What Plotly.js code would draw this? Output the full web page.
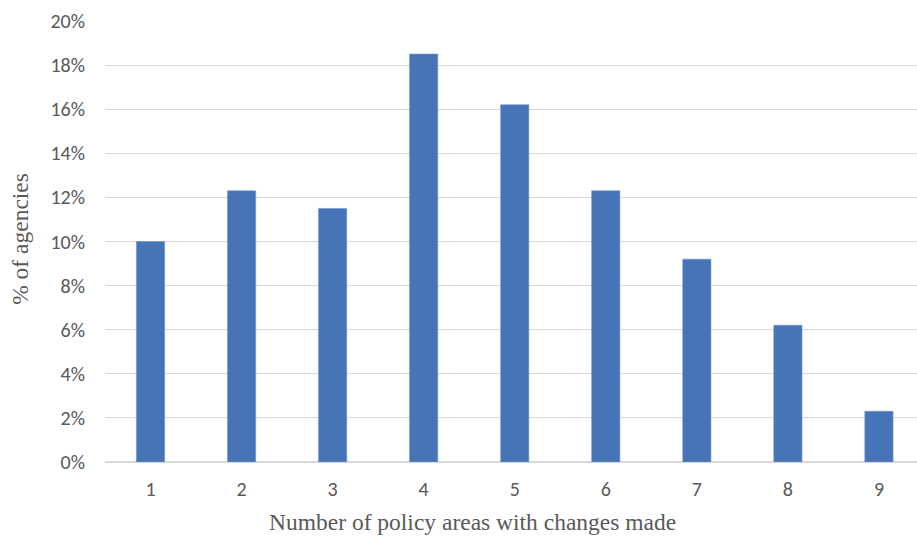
<!DOCTYPE html>
<html>
<head>
<meta charset="utf-8">
<script src="https://cdn.plot.ly/plotly-3.0.1.min.js"></script>
<style>html,body{margin:0;padding:0;background:#fff;}#chart{width:917px;height:537px;}</style>
</head>
<body>
<div id="chart"></div>
<script>
// Share of agencies by number of policy areas changed
const policyAreas = [1, 2, 3, 4, 5, 6, 7, 8, 9];
const agencyShare = [0.100, 0.123, 0.115, 0.185, 0.162, 0.123, 0.092, 0.062, 0.023];
const yTickVals = [0, 0.02, 0.04, 0.06, 0.08, 0.10, 0.12, 0.14, 0.16, 0.18, 0.20];
const yTickText = ['0%', '2%', '4%', '6%', '8%', '10%', '12%', '14%', '16%', '18%', '20%'];
const xTitle = 'Number of policy areas with changes made';
const yTitle = '% of agencies';

const tickFont = {family: 'Carlito, Lato, "Liberation Sans", Arial, sans-serif', size: 20, color: '#595959'};
const titleFont = {family: '"Liberation Serif", "DejaVu Serif", serif', size: 23.5, color: '#595959'};

Plotly.newPlot('chart', [{
  type: 'bar',
  x: policyAreas,
  y: agencyShare,
  width: 0.31,
  marker: {color: '#4674b6', line: {color: '#6f95cf', width: 0.6}},
  hoverinfo: 'x+y'
}], {
  width: 917,
  height: 537,
  margin: {l: 105, r: 0, t: 21, b: 75},
  paper_bgcolor: '#ffffff',
  plot_bgcolor: '#ffffff',
  showlegend: false,
  xaxis: {
    range: [0.5, 9.418],
    tickvals: policyAreas,
    ticktext: policyAreas.map(String),
    tickfont: tickFont,
    ticks: 'outside',
    ticklen: 9,
    tickcolor: 'rgba(0,0,0,0)',
    showgrid: false,
    zeroline: false,
    showline: false,
    automargin: false
  },
  yaxis: {
    range: [0, 0.2],
    tickvals: yTickVals,
    ticktext: yTickText,
    tickfont: tickFont,
    ticks: 'outside',
    ticklen: 15,
    tickcolor: 'rgba(0,0,0,0)',
    showgrid: true,
    gridcolor: '#d9d9d9',
    gridwidth: 1,
    zeroline: true,
    zerolinecolor: '#d9d9d9',
    zerolinewidth: 1.5,
    showline: false,
    automargin: false
  },
  annotations: [
    {text: xTitle, xref: 'paper', yref: 'paper', x: 0.453, y: -0.137,
     xanchor: 'center', yanchor: 'middle', showarrow: false, font: titleFont},
    {text: yTitle, xref: 'paper', yref: 'paper', x: -0.104, y: 0.505, textangle: -90,
     xanchor: 'center', yanchor: 'middle', showarrow: false, font: titleFont}
  ]
}, {displayModeBar: false, staticPlot: true});
</script>
</body>
</html>
